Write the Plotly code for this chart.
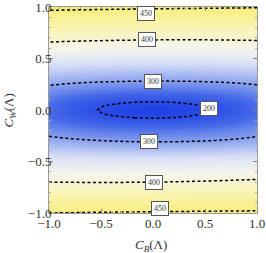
import numpy as np
import plotly.graph_objects as go

# knots along C_W (y) and field values at C_B = 0, -1, +1
y_knots = [-1.0, -0.85, -0.7, -0.5, -0.3, -0.18, -0.08, -0.04, 0.0, 0.04, 0.08, 0.18, 0.28, 0.5, 0.68, 0.85, 1.0]
z_center = [452, 428, 400, 362, 297, 255, 200, 185, 180, 185, 200, 255, 300, 362, 400, 428, 453]
z_left = [450, 428, 400, 365, 312, 280, 258, 252, 250, 252, 258, 284, 312, 368, 404, 432, 455]
z_right = [453, 432, 405, 368, 310, 282, 258, 252, 250, 252, 258, 282, 310, 366, 401, 430, 451]

levels_main = [200, 300, 400]
level_top = 450

tick_vals = [-1.0, -0.5, 0.0, 0.5, 1.0]
tick_text = ["−1.0", "−0.5", "0.0", "0.5", "1.0"]

label_text = ["450", "400", "300", "200", "300", "400", "450"]
label_x = [-0.07, -0.06, 0.0, 0.54, -0.04, 0.005, 0.07]
label_y = [0.94, 0.68, 0.28, 0.01, -0.31, -0.70, -0.96]

xs = np.linspace(-1, 1, 161)
ys = np.linspace(-1, 1, 241)
P = np.interp(ys, y_knots, z_center)
L = np.interp(ys, y_knots, z_left)
R = np.interp(ys, y_knots, z_right)
X = xs[None, :]
Pc, Lc, Rc = P[:, None], L[:, None], R[:, None]
Z = Pc + X**2 * ((Lc + Rc) / 2 - Pc) + X * (Rc - Lc) / 2

cscale = [
    [0.0, "rgb(32,66,230)"],
    [0.255, "rgb(70,105,232)"],
    [0.436, "rgb(135,160,238)"],
    [0.618, "rgb(215,222,246)"],
    [0.75, "rgb(245,245,236)"],
    [0.87, "rgb(249,244,182)"],
    [1.0, "rgb(247,237,120)"],
]

fig = go.Figure()
fig.add_trace(go.Heatmap(x=xs, y=ys, z=Z, colorscale=cscale, zmin=180, zmax=455,
                         zsmooth="best", showscale=False, hoverinfo="skip"))
line_style = dict(color="black", width=1.5, dash="3px,2.5px")
fig.add_trace(go.Contour(x=xs, y=ys, z=Z, contours=dict(coloring="none", start=levels_main[0],
                         end=levels_main[-1], size=levels_main[1] - levels_main[0]),
                         line=line_style, showscale=False, hoverinfo="skip"))
fig.add_trace(go.Contour(x=xs, y=ys, z=Z, contours=dict(coloring="none", start=level_top,
                         end=level_top, size=1),
                         line=line_style, showscale=False, hoverinfo="skip"))

for t, lx, ly in zip(label_text, label_x, label_y):
    fig.add_annotation(x=lx, y=ly, text=t, showarrow=False,
                       font=dict(family="Liberation Serif", size=8, color="#333"),
                       bgcolor="white", bordercolor="#555", borderwidth=1, borderpad=2)

serif = "Liberation Serif"
title_font = dict(family=serif, size=13, color="#333")
fig.add_annotation(xref="paper", yref="paper", x=0.49, y=-0.16, text="<i>C</i><sub><i>B</i></sub>(Λ)",
                   showarrow=False, font=title_font, xanchor="center", yanchor="middle")
fig.add_annotation(xref="paper", yref="paper", x=-0.19, y=0.5, text="<i>C</i><sub><i>W</i></sub>(Λ)",
                   showarrow=False, font=title_font, xanchor="center", yanchor="middle", textangle=-90)

axis_common = dict(range=[-1, 1], tickvals=tick_vals, ticktext=tick_text, ticks="inside", ticklen=4,
                   tickcolor="#888", mirror="allticks", showline=True, linecolor="#999",
                   linewidth=1, showgrid=False, zeroline=False, automargin=False,
                   ticklabeloverflow="allow",
                   minor=dict(ticks="inside", ticklen=2, tickvals=[round(-0.9 + 0.1 * i, 1) for i in range(19)],
                              tickcolor="#aaa"),
                   tickfont=dict(family=serif, size=13, color="#333"))
fig.update_xaxes(**axis_common, ticklabelstandoff=-2)
fig.update_yaxes(**axis_common, ticklabelstandoff=-6)
fig.update_layout(width=266, height=253, margin=dict(l=49, r=9, t=7, b=40),
                  paper_bgcolor="white", plot_bgcolor="white", showlegend=False)
fig.write_html("out.html", config={"displayModeBar": False},
               post_script="document.body.style.margin='0px';")
